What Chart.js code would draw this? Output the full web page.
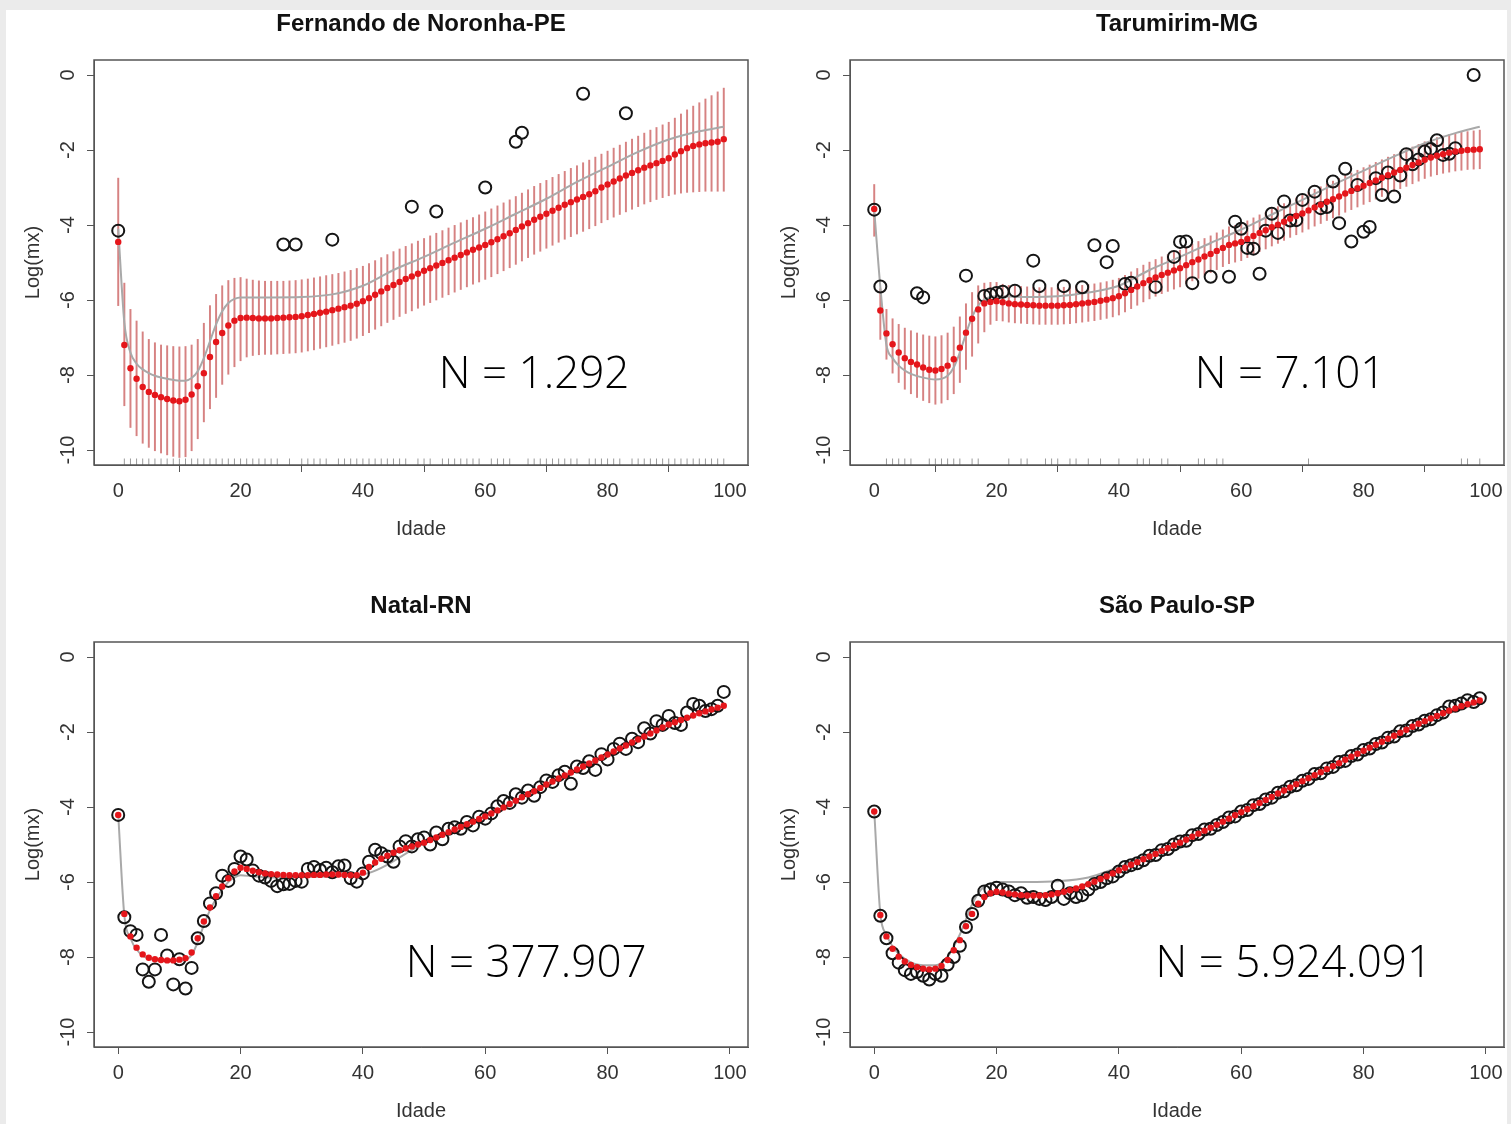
<!DOCTYPE html>
<html lang="pt-BR">
<head>
<meta charset="utf-8">
<title>Log(mx) por idade</title>
<script src="https://cdn.jsdelivr.net/npm/chart.js@4.4.1/dist/chart.umd.min.js"></script>
<style>
    html, body { margin: 0; padding: 0; background: #ebebeb; overflow: hidden; }
    .sheet { position: absolute; left: 6px; top: 10px; width: 1501px; height: 1114px; background: #fff; overflow: hidden; }
    .sheet canvas { position: absolute; }
    #fnChart { left: 0; top: 0; }
    #taChart { left: 756px; top: 0; }
    #ntChart { left: 0; top: 582px; }
    #spChart { left: 756px; top: 582px; }
</style>
</head>
<body>
<div class="sheet">
    <canvas id="fnChart" width="750" height="560"></canvas>
    <canvas id="taChart" width="750" height="560"></canvas>
    <canvas id="ntChart" width="750" height="560"></canvas>
    <canvas id="spChart" width="750" height="560"></canvas>
</div>
<script>
const AGES = [0,1,2,3,4,5,6,7,8,9,10,11,12,13,14,15,16,17,18,19,20,21,22,23,24,25,26,27,28,29,
    30,31,32,33,34,35,36,37,38,39,40,41,42,43,44,45,46,47,48,49,50,51,52,53,54,55,56,57,58,59,
    60,61,62,63,64,65,66,67,68,69,70,71,72,73,74,75,76,77,78,79,80,81,82,83,84,85,86,87,88,89,
    90,91,92,93,94,95,96,97,98,99];
const X_TICKS = [0, 20, 40, 60, 80, 100];
const Y_TICKS = [0, -2, -4, -6, -8, -10];

// Fernando de Noronha-PE
const fnFit = [-4.45,-7.2,-7.82,-8.1,-8.32,-8.45,-8.53,-8.59,-8.64,-8.68,
    -8.7,-8.66,-8.52,-8.3,-7.95,-7.52,-7.12,-6.88,-6.68,-6.55,
    -6.48,-6.47,-6.48,-6.49,-6.49,-6.49,-6.48,-6.47,-6.46,-6.45,
    -6.43,-6.4,-6.37,-6.34,-6.31,-6.27,-6.23,-6.19,-6.15,-6.1,
    -6.03,-5.95,-5.86,-5.77,-5.68,-5.6,-5.52,-5.44,-5.37,-5.3,
    -5.22,-5.15,-5.08,-5.01,-4.94,-4.87,-4.8,-4.73,-4.66,-4.6,
    -4.53,-4.46,-4.38,-4.3,-4.22,-4.13,-4.04,-3.95,-3.86,-3.78,
    -3.7,-3.62,-3.54,-3.46,-3.39,-3.32,-3.25,-3.18,-3.1,-3.0,
    -2.92,-2.84,-2.76,-2.68,-2.61,-2.54,-2.47,-2.41,-2.35,-2.29,
    -2.22,-2.12,-2.03,-1.95,-1.89,-1.85,-1.82,-1.8,-1.78,-1.71];
const fnUpper = [-2.75,-5.55,-6.25,-6.56,-6.85,-7.05,-7.14,-7.2,-7.22,-7.24,
    -7.25,-7.24,-7.2,-7.05,-6.62,-6.15,-5.85,-5.62,-5.48,-5.42,
    -5.4,-5.44,-5.47,-5.49,-5.5,-5.5,-5.5,-5.5,-5.49,-5.48,
    -5.46,-5.44,-5.41,-5.38,-5.35,-5.32,-5.29,-5.25,-5.21,-5.16,
    -5.1,-5.03,-4.95,-4.87,-4.79,-4.71,-4.64,-4.57,-4.5,-4.43,
    -4.36,-4.29,-4.22,-4.15,-4.08,-4.01,-3.94,-3.87,-3.8,-3.73,
    -3.65,-3.57,-3.49,-3.41,-3.33,-3.24,-3.15,-3.06,-2.97,-2.89,
    -2.81,-2.73,-2.65,-2.57,-2.49,-2.42,-2.34,-2.27,-2.19,-2.11,
    -2.03,-1.95,-1.87,-1.79,-1.71,-1.63,-1.55,-1.47,-1.4,-1.33,
    -1.26,-1.15,-1.04,-0.93,-0.83,-0.74,-0.64,-0.55,-0.45,-0.35];
const fnLower = [-6.15,-8.82,-9.4,-9.62,-9.82,-9.93,-10.02,-10.08,-10.13,-10.17,
    -10.2,-10.18,-10.02,-9.7,-9.25,-8.9,-8.6,-8.25,-7.98,-7.78,
    -7.62,-7.52,-7.48,-7.46,-7.45,-7.45,-7.44,-7.43,-7.42,-7.41,
    -7.39,-7.36,-7.33,-7.29,-7.25,-7.21,-7.17,-7.13,-7.08,-7.02,
    -6.95,-6.87,-6.78,-6.69,-6.6,-6.52,-6.44,-6.36,-6.29,-6.22,
    -6.14,-6.07,-6.0,-5.93,-5.86,-5.79,-5.72,-5.65,-5.58,-5.52,
    -5.45,-5.38,-5.3,-5.22,-5.14,-5.05,-4.96,-4.87,-4.78,-4.7,
    -4.62,-4.54,-4.46,-4.38,-4.31,-4.24,-4.17,-4.1,-4.02,-3.94,
    -3.86,-3.79,-3.72,-3.65,-3.58,-3.51,-3.44,-3.38,-3.32,-3.27,
    -3.22,-3.18,-3.15,-3.13,-3.12,-3.11,-3.1,-3.1,-3.1,-3.1];
const fnObsAge = [0, 27, 29, 35, 48, 52, 60, 65, 66, 76, 83];
const fnObsVal = [-4.15, -4.52, -4.52, -4.39, -3.51, -3.64, -3.0, -1.78, -1.54, -0.5, -1.02];
const fnGrayAge = [0,1,2,3,4,5,6,8,10,11,12,13,14,15,16,17,18,19,20,25,30,35,40,45,50,55,60,65,70,75,80,85,90,95,99];
const fnGrayVal = [-4.1,-6.6,-7.4,-7.7,-7.85,-7.95,-8.02,-8.1,-8.15,-8.15,-8.08,-7.9,-7.55,-7.1,-6.65,
    -6.3,-6.08,-5.97,-5.93,-5.93,-5.92,-5.85,-5.62,-5.2,-4.85,-4.47,-4.1,-3.7,-3.3,-2.85,
    -2.45,-2.05,-1.72,-1.5,-1.38];

// Tarumirim-MG
const taFit = [-3.57,-6.28,-6.89,-7.18,-7.4,-7.55,-7.65,-7.72,-7.8,-7.86,
    -7.88,-7.84,-7.75,-7.58,-7.27,-6.87,-6.5,-6.25,-6.09,-6.05,
    -6.03,-6.06,-6.09,-6.11,-6.12,-6.13,-6.14,-6.15,-6.15,-6.15,
    -6.15,-6.14,-6.13,-6.11,-6.09,-6.07,-6.05,-6.02,-5.99,-5.95,
    -5.9,-5.82,-5.73,-5.64,-5.55,-5.47,-5.4,-5.33,-5.27,-5.21,
    -5.15,-5.07,-4.99,-4.92,-4.84,-4.77,-4.69,-4.61,-4.53,-4.49,
    -4.45,-4.37,-4.29,-4.21,-4.14,-4.06,-3.99,-3.91,-3.83,-3.76,
    -3.69,-3.61,-3.53,-3.46,-3.38,-3.31,-3.24,-3.16,-3.09,-3.02,
    -2.95,-2.88,-2.81,-2.74,-2.67,-2.6,-2.53,-2.47,-2.4,-2.33,
    -2.26,-2.2,-2.15,-2.11,-2.07,-2.04,-2.02,-2.0,-1.99,-1.98];
const taUpper = [-2.92,-5.7,-6.25,-6.5,-6.65,-6.75,-6.82,-6.88,-6.93,-6.96,
    -6.98,-6.95,-6.88,-6.72,-6.45,-6.1,-5.8,-5.62,-5.55,-5.53,
    -5.53,-5.58,-5.61,-5.63,-5.64,-5.65,-5.66,-5.67,-5.67,-5.67,
    -5.67,-5.66,-5.65,-5.63,-5.61,-5.59,-5.57,-5.54,-5.51,-5.47,
    -5.42,-5.34,-5.25,-5.16,-5.07,-4.99,-4.92,-4.85,-4.79,-4.73,
    -4.67,-4.59,-4.51,-4.44,-4.36,-4.29,-4.21,-4.13,-4.05,-4.01,
    -3.97,-3.89,-3.81,-3.73,-3.66,-3.58,-3.51,-3.43,-3.35,-3.28,
    -3.21,-3.13,-3.05,-2.98,-2.9,-2.83,-2.76,-2.68,-2.61,-2.54,
    -2.47,-2.4,-2.33,-2.26,-2.19,-2.12,-2.05,-1.99,-1.92,-1.85,
    -1.78,-1.72,-1.67,-1.63,-1.59,-1.56,-1.53,-1.51,-1.49,-1.47];
const taLower = [-4.3,-7.05,-7.58,-7.95,-8.2,-8.38,-8.5,-8.6,-8.68,-8.74,
    -8.78,-8.75,-8.66,-8.5,-8.2,-7.85,-7.5,-7.15,-6.85,-6.65,
    -6.55,-6.56,-6.59,-6.61,-6.62,-6.63,-6.64,-6.65,-6.65,-6.65,
    -6.65,-6.64,-6.63,-6.61,-6.59,-6.57,-6.55,-6.52,-6.49,-6.45,
    -6.4,-6.32,-6.23,-6.14,-6.05,-5.97,-5.9,-5.83,-5.77,-5.71,
    -5.65,-5.57,-5.49,-5.42,-5.34,-5.27,-5.19,-5.11,-5.03,-4.99,
    -4.95,-4.87,-4.79,-4.71,-4.64,-4.56,-4.49,-4.41,-4.33,-4.26,
    -4.19,-4.11,-4.03,-3.96,-3.88,-3.81,-3.74,-3.66,-3.59,-3.52,
    -3.45,-3.38,-3.31,-3.24,-3.17,-3.1,-3.03,-2.97,-2.9,-2.83,
    -2.76,-2.7,-2.66,-2.62,-2.59,-2.56,-2.54,-2.52,-2.51,-2.5];
const taObsAge = [0,1,7,8,15,18,19,20,21,23,26,27,31,34,36,38,39,41,42,46,49,50,51,52,55,58,59,60,61,62,
    63,64,65,66,67,68,69,70,72,73,74,75,76,77,78,79,80,81,82,83,84,85,86,87,88,89,90,91,92,93,94,95,98];
const taObsVal = [-3.59,-5.64,-5.82,-5.93,-5.35,-5.89,-5.85,-5.81,-5.78,-5.75,-4.95,-5.63,-5.63,-5.66,-4.54,
    -4.99,-4.56,-5.57,-5.54,-5.65,-4.85,-4.45,-4.44,-5.55,-5.38,-5.38,-3.91,-4.1,-4.61,-4.63,
    -5.3,-4.15,-3.7,-4.21,-3.37,-3.88,-3.87,-3.33,-3.11,-3.55,-3.52,-2.84,-3.95,-2.5,-4.44,
    -2.93,-4.18,-4.05,-2.75,-3.2,-2.6,-3.24,-2.68,-2.11,-2.38,-2.25,-2.04,-1.97,-1.74,-2.13,
    -2.1,-1.95,0.0];
const taGrayAge = [0,1,2,3,4,5,6,8,10,12,13,14,15,16,17,18,19,20,25,30,35,40,45,50,55,60,65,70,75,80,85,90,95,99];
const taGrayVal = [-3.6,-5.65,-7.2,-7.55,-7.75,-7.88,-7.97,-8.07,-8.12,-8.02,-7.8,-7.4,-6.9,-6.45,-6.15,
    -5.98,-5.92,-5.9,-5.92,-5.9,-5.8,-5.62,-5.2,-4.85,-4.48,-4.12,-3.72,-3.33,-2.93,-2.55,
    -2.17,-1.82,-1.55,-1.38];

// Natal-RN
const ntFit = [-4.21,-6.85,-7.45,-7.75,-7.93,-8.02,-8.06,-8.08,-8.09,-8.09,
    -8.07,-8.03,-7.88,-7.5,-7.05,-6.68,-6.38,-6.12,-5.9,-5.72,
    -5.62,-5.65,-5.7,-5.74,-5.77,-5.79,-5.8,-5.81,-5.82,-5.82,
    -5.82,-5.82,-5.81,-5.81,-5.8,-5.8,-5.8,-5.81,-5.82,-5.82,
    -5.75,-5.6,-5.48,-5.38,-5.3,-5.22,-5.15,-5.1,-5.05,-5.0,
    -4.95,-4.88,-4.81,-4.74,-4.67,-4.6,-4.53,-4.46,-4.39,-4.32,
    -4.25,-4.17,-4.09,-4.01,-3.92,-3.83,-3.74,-3.66,-3.58,-3.49,
    -3.4,-3.32,-3.24,-3.16,-3.08,-3.0,-2.92,-2.84,-2.76,-2.68,
    -2.6,-2.52,-2.44,-2.36,-2.28,-2.2,-2.12,-2.04,-1.96,-1.88,
    -1.8,-1.74,-1.68,-1.62,-1.56,-1.5,-1.45,-1.4,-1.35,-1.3];
const ntObs = [-4.21,-6.94,-7.31,-7.41,-8.33,-8.66,-8.33,-7.41,-7.96,-8.73,
    -8.06,-8.84,-8.29,-7.5,-7.04,-6.57,-6.3,-5.83,-5.97,-5.65,
    -5.32,-5.4,-5.69,-5.83,-5.88,-5.97,-6.11,-6.06,-6.05,-5.97,
    -5.99,-5.65,-5.6,-5.68,-5.62,-5.74,-5.58,-5.56,-5.9,-5.99,
    -5.77,-5.46,-5.14,-5.23,-5.32,-5.46,-5.05,-4.91,-5.05,-4.86,
    -4.81,-5.0,-4.68,-4.86,-4.58,-4.54,-4.58,-4.4,-4.49,-4.26,
    -4.31,-4.17,-3.98,-3.84,-3.89,-3.66,-3.75,-3.56,-3.7,-3.47,
    -3.29,-3.33,-3.15,-3.06,-3.38,-2.92,-2.96,-2.78,-3.01,-2.59,
    -2.73,-2.45,-2.31,-2.45,-2.18,-2.27,-1.9,-2.04,-1.71,-1.81,
    -1.57,-1.76,-1.81,-1.48,-1.25,-1.3,-1.44,-1.39,-1.3,-0.93];
const ntGrayAge = [0,1,2,3,5,8,10,12,13,14,15,16,17,18,19,20,22,25,30,35,40,50,60,70,80,90,99];
const ntGrayVal = [-4.2,-6.9,-7.5,-7.8,-8.05,-8.1,-8.1,-7.95,-7.6,-7.15,-6.75,-6.45,-6.2,-6.0,-5.88,
    -5.82,-5.85,-5.88,-5.87,-5.85,-5.8,-4.97,-4.25,-3.4,-2.6,-1.8,-1.3];

// São Paulo-SP
const spFit = [-4.12,-6.88,-7.45,-7.78,-7.99,-8.12,-8.21,-8.27,-8.31,-8.33,
    -8.31,-8.24,-8.08,-7.82,-7.55,-7.18,-6.85,-6.58,-6.4,-6.3,
    -6.26,-6.28,-6.31,-6.33,-6.35,-6.36,-6.36,-6.36,-6.35,-6.33,
    -6.3,-6.26,-6.22,-6.17,-6.12,-6.06,-5.99,-5.92,-5.85,-5.77,
    -5.69,-5.62,-5.54,-5.47,-5.39,-5.32,-5.25,-5.17,-5.1,-5.02,
    -4.95,-4.87,-4.79,-4.71,-4.63,-4.55,-4.47,-4.39,-4.31,-4.22,
    -4.14,-4.06,-3.98,-3.89,-3.81,-3.73,-3.64,-3.56,-3.48,-3.39,
    -3.31,-3.23,-3.15,-3.07,-2.99,-2.91,-2.83,-2.74,-2.66,-2.58,
    -2.5,-2.42,-2.34,-2.26,-2.18,-2.1,-2.02,-1.94,-1.86,-1.78,
    -1.71,-1.64,-1.57,-1.5,-1.43,-1.37,-1.31,-1.26,-1.21,-1.16];
const spObs = [-4.12,-6.9,-7.5,-7.9,-8.15,-8.35,-8.45,-8.4,-8.5,-8.6,
    -8.45,-8.5,-8.2,-8.0,-7.7,-7.2,-6.85,-6.5,-6.25,-6.2,
    -6.15,-6.2,-6.25,-6.35,-6.3,-6.42,-6.4,-6.45,-6.48,-6.4,
    -6.1,-6.45,-6.3,-6.4,-6.35,-6.2,-6.05,-6.0,-5.9,-5.85,
    -5.72,-5.6,-5.55,-5.5,-5.42,-5.3,-5.28,-5.15,-5.12,-5.0,
    -4.92,-4.9,-4.75,-4.72,-4.6,-4.58,-4.48,-4.4,-4.28,-4.25,
    -4.12,-4.08,-3.95,-3.92,-3.8,-3.75,-3.62,-3.58,-3.46,-3.42,
    -3.3,-3.25,-3.12,-3.1,-2.97,-2.93,-2.8,-2.77,-2.64,-2.6,
    -2.48,-2.44,-2.32,-2.28,-2.15,-2.12,-1.98,-1.96,-1.84,-1.8,
    -1.7,-1.66,-1.55,-1.48,-1.32,-1.3,-1.24,-1.15,-1.2,-1.1];
const spGrayAge = [0,1,2,3,5,8,10,12,13,14,15,16,17,18,19,20,25,30,35,40,45,50,60,70,80,90,99];
const spGrayVal = [-4.1,-6.85,-7.4,-7.72,-8.05,-8.22,-8.22,-8.0,-7.72,-7.4,-7.0,-6.6,-6.3,-6.12,-6.04,
    -6.0,-6.0,-5.98,-5.88,-5.6,-5.28,-4.93,-4.12,-3.3,-2.5,-1.72,-1.2];

const FONT = '"Liberation Sans", Arial, Helvetica, sans-serif';
const RED = '#e5161b';
const BOX = '#555';
const RUG_Y = -10.32;

const pairs = (xs, ys) => xs.map((x, i) => ({ x, y: ys[i] }));

// box round the plot region, title over it, and the "N = ..." note
const panelDecor = {
    id: 'panelDecor',
    afterDatasetsDraw(chart, args, opts) {
        const { ctx, chartArea: a, scales } = chart;
        ctx.save();
        ctx.strokeStyle = BOX;
        ctx.lineWidth = 1.5;
        ctx.strokeRect(a.left, a.top, a.right - a.left, a.bottom - a.top);
        ctx.fillStyle = '#111';
        ctx.textAlign = 'center';
        ctx.textBaseline = 'middle';
        ctx.font = `bold 24px ${FONT}`;
        ctx.fillText(opts.title, (a.left + a.right) / 2, a.top - 36);
        ctx.fillStyle = '#000';
        ctx.font = '300 44px "Open Sans", Lato, sans-serif';
        ctx.fillText(opts.note, scales.x.getPixelForValue(opts.noteAt[0]), scales.y.getPixelForValue(opts.noteAt[1]));
        ctx.restore();
    }
};

function axisOptions(tickList, min, max, extra) {
    return {
        type: 'linear',
        min,
        max,
        afterBuildTicks: (scale) => { scale.ticks = tickList.map((v) => ({ value: v })); },
        grid: { drawOnChartArea: false, drawTicks: true, tickLength: 7, color: BOX, tickWidth: 1 },
        border: { display: true, color: BOX, width: 1 },
        ...extra
    };
}

function buildPanel(canvasId, p) {
    const datasets = [
        {
            label: 'ajuste',
            data: pairs(AGES, p.fit),
            backgroundColor: RED,
            borderColor: RED,
            pointRadius: 3.2,
            pointBorderWidth: 0,
            showLine: false,
            order: 1
        },
        {
            label: 'observado',
            data: pairs(p.obsAge, p.obsVal),
            backgroundColor: 'rgba(0,0,0,0)',
            borderColor: '#151515',
            pointRadius: 6,
            pointBorderWidth: 2,
            showLine: false,
            order: 2
        },
        {
            type: 'line',
            label: 'referência',
            data: pairs(p.grayAge, p.grayVal),
            borderColor: '#a9a9a9',
            borderWidth: 2,
            pointRadius: 0,
            cubicInterpolationMode: 'monotone',
            order: 3
        }
    ];
    if (p.lower) {
        datasets.push({
            type: 'bar',
            label: 'intervalo',
            data: AGES.map((a, i) => ({ x: a, y: [p.lower[i], p.upper[i]] })),
            backgroundColor: 'rgba(198,82,82,0.72)',
            barThickness: 1.3,
            order: 4
        });
    }
    if (p.rug) {
        datasets.push({
            label: 'rug',
            data: p.rug.map((a) => ({ x: a, y: RUG_Y })),
            pointStyle: 'line',
            rotation: 90,
            pointRadius: 3.5,
            borderColor: '#9a9a9a',
            pointBorderWidth: 1,
            showLine: false,
            order: 5
        });
    }

    return new Chart(document.getElementById(canvasId), {
        type: 'scatter',
        data: { datasets },
        plugins: [panelDecor],
        options: {
            responsive: false,
            animation: false,
            events: [],
            layout: { padding: { top: 50, right: 7, left: 0, bottom: 0 } },
            plugins: {
                legend: { display: false },
                tooltip: { enabled: false },
                panelDecor: { title: p.title, note: p.note, noteAt: p.noteAt }
            },
            scales: {
                x: axisOptions(X_TICKS, -3.96, 102.96, {
                    afterFit: (s) => { s.height = 105; },
                    offset: false,
                    ticks: { font: { family: FONT, size: 20, lineHeight: 1.2 }, color: '#333', padding: 7, maxRotation: 0, autoSkip: false },
                    title: { display: true, text: 'Idade', color: '#333', font: { family: FONT, size: 20, lineHeight: 1.2 }, padding: { top: 0, bottom: 29 } }
                }),
                y: axisOptions(Y_TICKS, -10.4, 0.4, {
                    afterFit: (s) => { s.width = 88; },
                    ticks: { font: { family: FONT, size: 20, lineHeight: 1.2 }, color: '#333', padding: 4, minRotation: 90, maxRotation: 90, crossAlign: 'center', autoSkip: false },
                    title: { display: true, text: 'Log(mx)', color: '#333', font: { family: FONT, size: 20, lineHeight: 1.2 }, padding: { top: 15, bottom: 0 } }
                })
            }
        }
    });
}

document.addEventListener('DOMContentLoaded', () => {
    buildPanel('fnChart', {
        title: 'Fernando de Noronha-PE', note: 'N = 1.292', noteAt: [68, -8.0],
        fit: fnFit, obsAge: fnObsAge, obsVal: fnObsVal,
        grayAge: fnGrayAge, grayVal: fnGrayVal,
        lower: fnLower, upper: fnUpper,
        rug: AGES.filter((a) => !fnObsAge.includes(a))
    });
    buildPanel('taChart', {
        title: 'Tarumirim-MG', note: 'N = 7.101', noteAt: [68, -8.0],
        fit: taFit, obsAge: taObsAge, obsVal: taObsVal,
        grayAge: taGrayAge, grayVal: taGrayVal,
        lower: taLower, upper: taUpper,
        rug: AGES.filter((a) => !taObsAge.includes(a))
    });
    buildPanel('ntChart', {
        title: 'Natal-RN', note: 'N = 377.907', noteAt: [66.7, -8.2],
        fit: ntFit, obsAge: AGES, obsVal: ntObs,
        grayAge: ntGrayAge, grayVal: ntGrayVal
    });
    buildPanel('spChart', {
        title: 'São Paulo-SP', note: 'N = 5.924.091', noteAt: [68.6, -8.2],
        fit: spFit, obsAge: AGES, obsVal: spObs,
        grayAge: spGrayAge, grayVal: spGrayVal
    });
});
</script>
</body>
</html>
